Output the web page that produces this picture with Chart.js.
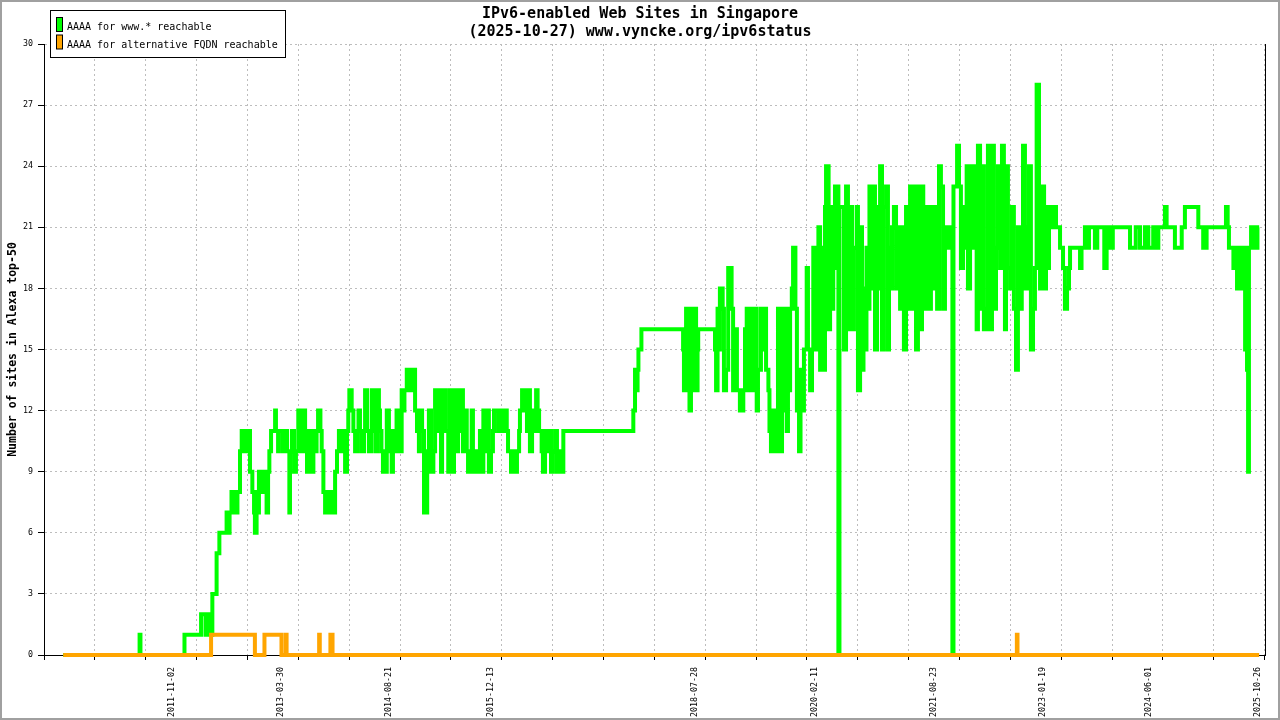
<!DOCTYPE html>
<html><head><meta charset="utf-8">
<script src="https://cdn.jsdelivr.net/npm/chart.js"></script>
<style>html,body{margin:0;padding:0;background:#fff}canvas{display:block}</style>
</head><body>
<canvas id="c" width="1280" height="720"></canvas>
<script>
// ---------- text ----------
const titleLines = ['IPv6-enabled Web Sites in Singapore', '(2025-10-27) www.vyncke.org/ipv6status'];
const seriesLabels = ['AAAA for www.* reachable', 'AAAA for alternative FQDN reachable'];
const yAxisTitle = 'Number of sites in Alexa top-50';
const tickDates = ['2011-11-02','2013-03-30','2014-08-21','2015-12-13','2018-07-28','2020-02-11','2021-08-23','2023-01-19','2024-06-01','2025-10-26'];

// ---------- data: [day since 2010-01-01, number of sites] (step changes) ----------
const www2010_2012 = [[160,0],[519,1],[523,0],[730,1],[808,2],[829,1],[833,2],[850,1],[861,3],[881,5],[894,6],[928,7],[935,6],[942,7],[951,8],[958,7],[965,8],[975,7],[979,8],[991,10],[999,11],[1010,10],[1014,11],[1029,10],[1033,11],[1038,9],[1049,8],[1057,7],[1061,6],[1069,8],[1076,7],[1080,9],[1090,8],[1099,9],[1108,8],[1116,7],[1123,9],[1129,10],[1137,11],[1156,12],[1160,11],[1170,10],[1174,11],[1193,10],[1198,11],[1212,10],[1223,7],[1226,10],[1235,11],[1245,9],[1254,10]];
const www2013_2016 = [[1265,12],[1271,11],[1275,10],[1282,11],[1287,12],[1297,10],[1301,11],[1306,9],[1315,11],[1322,10],[1328,9],[1336,11],[1344,10],[1351,11],[1358,12],[1369,11],[1375,10],[1383,8],[1391,7],[1400,8],[1409,7],[1419,8],[1428,7],[1438,9],[1447,10],[1456,11],[1466,10],[1475,11],[1485,9],[1494,11],[1500,12],[1505,13],[1516,12],[1524,11],[1532,10],[1541,11],[1548,12],[1555,11],[1560,10],[1574,11],[1579,13],[1588,11],[1597,10],[1610,13],[1616,11],[1621,13],[1630,10],[1637,13],[1644,12],[1649,11],[1656,10],[1663,9],[1681,12],[1691,10],[1696,11],[1704,9],[1710,11],[1720,10],[1727,12],[1734,11],[1743,10],[1751,13],[1757,12],[1764,13],[1775,14],[1790,13],[1806,14],[1814,12],[1823,11],[1832,10],[1837,12],[1847,11],[1856,7],[1871,10],[1879,12],[1889,9],[1900,10],[1908,13],[1917,11],[1926,13],[1936,9],[1941,12],[1950,13],[1959,11],[1970,9],[1978,13],[1988,9],[1997,13],[2010,10],[2016,13],[2025,11],[2030,13],[2039,10],[2049,12],[2057,10],[2063,9],[2080,12],[2086,9],[2100,10],[2110,9],[2119,11],[2124,9],[2135,12],[2143,10],[2152,12],[2161,9],[2171,10],[2180,11],[2185,12],[2204,11],[2213,12],[2227,11],[2237,12],[2245,11],[2251,10],[2265,9],[2274,10],[2284,9],[2293,10],[2303,11],[2307,12],[2317,13],[2331,12],[2340,11],[2347,13],[2354,10],[2364,12],[2373,11],[2383,13],[2390,12],[2397,11],[2409,10],[2415,9],[2425,11],[2434,10],[2444,11],[2453,9],[2462,10],[2472,11],[2481,9],[2491,10],[2500,9],[2511,11]];
const www2017_2020 = [[2840,12],[2848,14],[2856,13],[2860,14],[2864,15],[2878,16],[3074,15],[3078,13],[3088,17],[3097,13],[3104,12],[3111,17],[3121,13],[3128,17],[3135,13],[3142,15],[3145,16],[3224,15],[3229,13],[3236,17],[3243,15],[3247,18],[3260,17],[3266,13],[3276,14],[3286,19],[3302,17],[3309,13],[3318,16],[3327,13],[3341,12],[3357,13],[3365,16],[3373,17],[3379,13],[3388,17],[3398,13],[3412,17],[3420,12],[3426,14],[3440,17],[3450,15],[3457,17],[3464,14],[3475,13],[3480,11],[3487,10],[3497,12],[3506,10],[3514,12],[3520,17],[3530,10],[3539,12],[3548,17],[3561,11],[3567,13],[3577,17],[3585,18],[3591,20],[3602,17],[3609,12],[3619,10],[3626,14],[3633,12],[3642,15],[3655,19],[3661,15],[3671,13],[3680,15],[3686,20],[3694,18],[3701,15],[3710,21],[3718,14],[3727,20],[3734,14],[3741,22],[3746,24],[3758,16],[3765,22],[3772,17],[3780,19],[3788,23],[3804,0],[3809,22],[3830,15],[3840,23],[3849,16],[3859,22],[3868,16],[3877,20],[3890,22],[3896,13],[3906,21],[3915,14],[3922,18],[3929,15],[3936,20],[3943,17],[3950,23],[3961,18],[3967,23],[3976,15],[3986,22],[3993,18],[4000,24],[4009,15],[4018,22],[4028,23],[4037,15],[4042,20],[4047,18],[4056,21],[4065,22],[4075,18],[4084,21],[4094,17],[4103,21],[4112,15],[4122,22],[4131,17],[4141,23],[4150,17],[4159,23],[4169,15],[4178,23],[4188,16],[4197,23],[4203,20],[4211,17],[4221,22],[4230,17],[4239,22],[4250,18],[4258,22],[4268,17],[4277,24],[4286,23],[4296,17],[4305,20],[4313,21],[4319,20],[4329,21]];
const www2021_2023 = [[4340,0],[4345,23],[4362,25],[4371,23],[4380,19],[4390,22],[4399,20],[4407,24],[4413,18],[4423,24],[4432,20],[4441,24],[4454,16],[4460,25],[4470,17],[4479,24],[4488,16],[4501,17],[4507,25],[4517,16],[4526,25],[4535,17],[4545,20],[4554,24],[4564,19],[4573,25],[4582,19],[4587,16],[4592,24],[4601,19],[4611,18],[4620,22],[4629,17],[4639,14],[4648,21],[4658,17],[4666,19],[4672,25],[4681,18],[4691,21],[4700,24],[4709,15],[4719,17],[4728,19],[4736,28],[4747,23],[4752,18],[4761,23],[4771,18],[4780,22],[4789,19],[4794,22]];
const www2023_2025 = [[4808,21],[4818,22],[4827,21],[4846,20],[4860,19],[4869,17],[4879,18],[4888,19],[4893,20],[4940,19],[4947,20],[4963,21],[4973,20],[4982,21],[5010,20],[5021,21],[5054,19],[5065,21],[5081,20],[5094,21],[5175,20],[5202,21],[5222,20],[5245,21],[5261,20],[5284,21],[5292,20],[5308,21],[5339,22],[5347,21],[5386,20],[5418,21],[5433,22],[5496,21],[5519,20],[5535,21],[5626,22],[5634,21],[5640,20],[5661,19],[5669,20],[5678,18],[5687,20],[5694,18],[5701,19],[5711,20],[5716,15],[5725,14],[5730,9],[5734,20],[5744,21],[5753,20],[5760,21],[5767,20],[5774,21],[5782,21]];
const fqdnSites = [[160,0],[855,1],[1061,0],[1106,1],[1186,0],[1206,1],[1210,0],[1363,1],[1366,0],[1416,1],[1426,0],[4643,1],[4646,0],[5782,0]];

// ---------- styling / axis config ----------
const MONO = 'DejaVu Sans Mono';
const GREEN = '#00ff00', ORANGE = '#ffa500', GRID = '#bdbdbd';
const X_MIN = 69.6, X_MAX = 5809.5, GRID_STEP = 239.1;
const EPOCH = Date.UTC(2010, 0, 1);
const toDay = s => { const [y, m, d] = s.split('-').map(Number); return (Date.UTC(y, m - 1, d) - EPOCH) / 86400000; };
const tickDays = tickDates.map(toDay);
const toPts = arr => arr.map(([x, y]) => ({x, y}));
const wwwAll = [].concat(www2010_2012, www2013_2016, www2017_2020, www2021_2023, www2023_2025);

const decor = {
  id: 'decor',
  beforeDraw(chart) {
    const ctx = chart.ctx; ctx.save(); ctx.fillStyle = '#fff'; ctx.fillRect(0, 0, chart.width, chart.height); ctx.restore();
  },
  afterDraw(chart) {
    const ctx = chart.ctx; ctx.save();
    ctx.strokeStyle = '#a0a0a0'; ctx.lineWidth = 2; ctx.strokeRect(1, 1, chart.width - 2, chart.height - 2);
    // legend
    ctx.fillStyle = '#fff'; ctx.fillRect(50, 10, 236, 48);
    ctx.strokeStyle = '#000'; ctx.lineWidth = 1; ctx.strokeRect(50.5, 10.5, 235, 47);
    ctx.font = '10px "' + MONO + '"'; ctx.textBaseline = 'alphabetic'; ctx.textAlign = 'left';
    chart.data.datasets.forEach((ds, i) => {
      const y = 17.5 + i * 17.5;
      ctx.fillStyle = ds.borderColor; ctx.fillRect(56.5, y, 6, 14);
      ctx.strokeStyle = '#000'; ctx.strokeRect(56.5, y, 6, 14);
      ctx.fillStyle = '#000'; ctx.fillText(ds.label, 67, 30 + i * 17.5);
    });
    ctx.restore();
  }
};

new Chart(document.getElementById('c'), {
  type: 'line',
  data: {
    datasets: [
      {label: seriesLabels[0], data: toPts(wwwAll), borderColor: GREEN, backgroundColor: GREEN, borderWidth: 4, stepped: true, pointRadius: 0, pointHoverRadius: 0, fill: false, clip: false, order: 1},
      {label: seriesLabels[1], data: toPts(fqdnSites), borderColor: ORANGE, backgroundColor: ORANGE, borderWidth: 4, stepped: true, pointRadius: 0, pointHoverRadius: 0, fill: false, clip: false, order: 0}
    ]
  },
  options: {
    responsive: false, animation: false, devicePixelRatio: 1,
    layout: {padding: 0},
    plugins: {
      legend: {display: false}, tooltip: {enabled: false},
      title: {display: true, text: titleLines, color: '#000', font: {family: MONO, size: 15, weight: 'bold', lineHeight: 1.2}, padding: {top: 5, bottom: 3}}
    },
    scales: {
      x: {
        type: 'linear', position: 'bottom', min: X_MIN, max: X_MAX,
        afterBuildTicks: s => { const t = []; for (let v = X_MIN; v <= X_MAX + 0.01; v += GRID_STEP) t.push({value: v}); s.ticks = t; },
        ticks: {display: false},
        grid: {color: GRID, lineWidth: 1, drawTicks: true, tickLength: 5, tickColor: '#000', tickWidth: 1},
        border: {display: true, color: '#000', width: 1, dash: [2, 3]},
        afterFit: s => { s.height = 5; }
      },
      x2: {
        type: 'linear', position: 'bottom', weight: 1, min: X_MIN, max: X_MAX,
        afterBuildTicks: s => { s.ticks = tickDays.map(v => ({value: v})); },
        ticks: {autoSkip: false, minRotation: 90, maxRotation: 90, padding: 7, color: '#000', font: {family: MONO, size: 8.3}, callback: (v, i) => tickDates[i]},
        grid: {display: false, drawTicks: false},
        border: {display: false},
        afterFit: s => { s.height = 60; }
      },
      y: {
        position: 'left', min: 0, max: 30,
        ticks: {stepSize: 3, padding: 5, color: '#000', font: {family: MONO, size: 8.3}},
        grid: {color: GRID, lineWidth: 1, tickLength: 6, tickColor: '#000'},
        border: {display: true, color: '#000', width: 1, dash: [2, 3]},
        title: {display: true, text: yAxisTitle, color: '#000', font: {family: MONO, size: 11.5, weight: 'bold', lineHeight: 1.2}, padding: {top: 6, bottom: 0}},
        afterFit: s => { s.width = 44; }
      },
      y2: {
        position: 'right', min: 0, max: 30,
        ticks: {display: false},
        grid: {drawOnChartArea: false, drawTicks: false},
        border: {display: true, color: '#000', width: 1},
        afterFit: s => { s.width = 15; }
      }
    }
  },
  plugins: [decor]
});
</script>
</body></html>
